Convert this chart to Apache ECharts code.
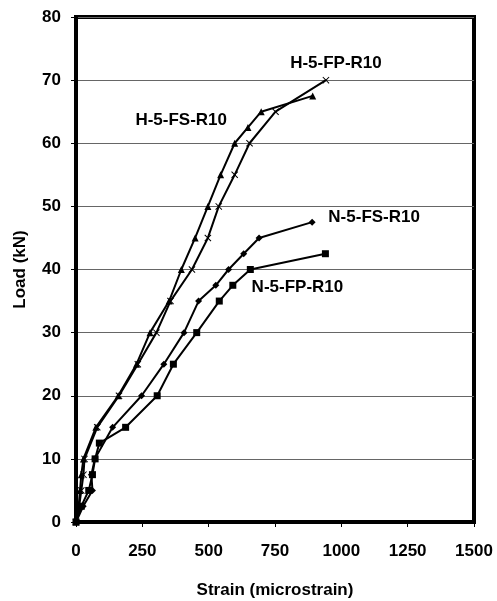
<!DOCTYPE html>
<html>
<head>
<meta charset="utf-8">
<script src="https://cdn.jsdelivr.net/npm/echarts@6/dist/echarts.min.js"></script>
<style>html,body{margin:0;padding:0;background:#fff}#c{width:497px;height:601px}</style>
</head>
<body>
<div id="c"></div>
<script>
var xTicks = [0, 250, 500, 750, 1000, 1250, 1500];
var yTicks = [0, 10, 20, 30, 40, 50, 60, 70, 80];
var seriesNames = ['H-5-FP-R10', 'H-5-FS-R10', 'N-5-FS-R10', 'N-5-FP-R10'];

var hfpStrain = [0, 12, 20, 28, 32, 80, 162, 233, 303, 356, 437, 497, 538, 598, 654, 752, 942];
var hfpLoad   = [0, 2.5, 5, 7.5, 10, 15, 20, 25, 30, 35, 40, 45, 50, 55, 60, 65, 70];

var hfsStrain = [0, 10, 15, 20, 28, 75, 159, 228, 279, 351, 397, 449, 497, 545, 598, 648, 698, 892];
var hfsLoad   = [0, 2.5, 5, 7.5, 10, 15, 20, 25, 30, 35, 40, 45, 50, 55, 60, 62.5, 65, 67.5];

var nfsStrain = [0, 27, 62, 58, 71, 138, 247, 331, 407, 462, 527, 575, 632, 690, 890];
var nfsLoad   = [0, 2.5, 5, 7.5, 10, 15, 20, 25, 30, 35, 37.5, 40, 42.5, 45, 47.5];

var nfpStrain = [0, 20, 48, 62, 72, 88, 187, 306, 367, 455, 540, 591, 657, 940];
var nfpLoad   = [0, 2.5, 5, 7.5, 10, 12.5, 15, 20, 25, 30, 35, 37.5, 40, 42.5];

var FONT = '"Liberation Sans", Arial, sans-serif';
var crossSym = 'path://M0,1L1,0L5,4L9,0L10,1L6,5L10,9L9,10L5,6L1,10L0,9L4,5Z';

function build(xs, ys, labelIdx, labelText, offset) {
  return xs.map(function (x, i) {
    var item = { value: [x, ys[i]] };
    if (i === labelIdx) {
      item.label = {
        show: true, formatter: labelText, position: 'inside', offset: offset,
        color: '#000', fontWeight: 'bold', fontSize: 17, fontFamily: FONT,
        align: 'center', verticalAlign: 'middle'
      };
    }
    return item;
  });
}

function mk(name, data, symbol, size) {
  return {
    name: name, type: 'line', data: data, symbol: symbol, symbolSize: size,
    showAllSymbol: true,
    lineStyle: { color: '#000', width: 2 },
    itemStyle: { color: '#000' },
    label: { show: false },
    emphasis: { disabled: true },
    animation: false, z: 3
  };
}

var chart = echarts.init(document.getElementById('c'));
chart.setOption({
  animation: false,
  backgroundColor: '#fff',
  grid: { left: 76, right: 23, top: 17, bottom: 79, containLabel: false, outerBoundsMode: 'none',
    show: true, borderColor: '#000', borderWidth: 4, backgroundColor: 'transparent' },
  xAxis: {
    type: 'value', min: xTicks[0], max: xTicks[xTicks.length - 1], interval: 250,
    name: 'Strain (microstrain)', nameLocation: 'middle', nameGap: 60,
    nameTextStyle: { color: '#000', fontWeight: 'bold', fontSize: 17, fontFamily: FONT },
    axisLine: { lineStyle: { color: '#000', width: 4 } },
    axisTick: { show: true, inside: false, length: 5, lineStyle: { color: '#000', width: 1 } },
    axisLabel: { color: '#000', fontWeight: 'bold', fontSize: 17, fontFamily: FONT, margin: 21,
      formatter: function (v) { return String(v); } },
    splitLine: { show: false }
  },
  yAxis: {
    type: 'value', min: yTicks[0], max: yTicks[yTicks.length - 1], interval: 10,
    name: 'Load (kN)', nameLocation: 'middle', nameGap: 47, nameRotate: 90,
    nameTextStyle: { color: '#000', fontWeight: 'bold', fontSize: 17, fontFamily: FONT },
    axisLine: { lineStyle: { color: '#000', width: 4 } },
    axisTick: { show: true, inside: false, length: 5, lineStyle: { color: '#000', width: 1 } },
    axisLabel: { color: '#000', fontWeight: 'bold', fontSize: 17, fontFamily: FONT, margin: 15 },
    splitLine: { show: true, lineStyle: { color: '#666', width: 1 } }
  },
  series: [
    mk(seriesNames[0], build(hfpStrain, hfpLoad, hfpStrain.length - 1, seriesNames[0], [10, -17]), crossSym, 7),
    mk(seriesNames[1], build(hfsStrain, hfsLoad, hfsStrain.length - 2, seriesNames[1], [-80, 9]), 'triangle', 7),
    mk(seriesNames[2], build(nfsStrain, nfsLoad, nfsStrain.length - 1, seriesNames[2], [62, -5]), 'diamond', 7),
    mk(seriesNames[3], build(nfpStrain, nfpLoad, nfpStrain.length - 1, seriesNames[3], [-28, 34]), 'rect', 7)
  ]
});
</script>
</body>
</html>
